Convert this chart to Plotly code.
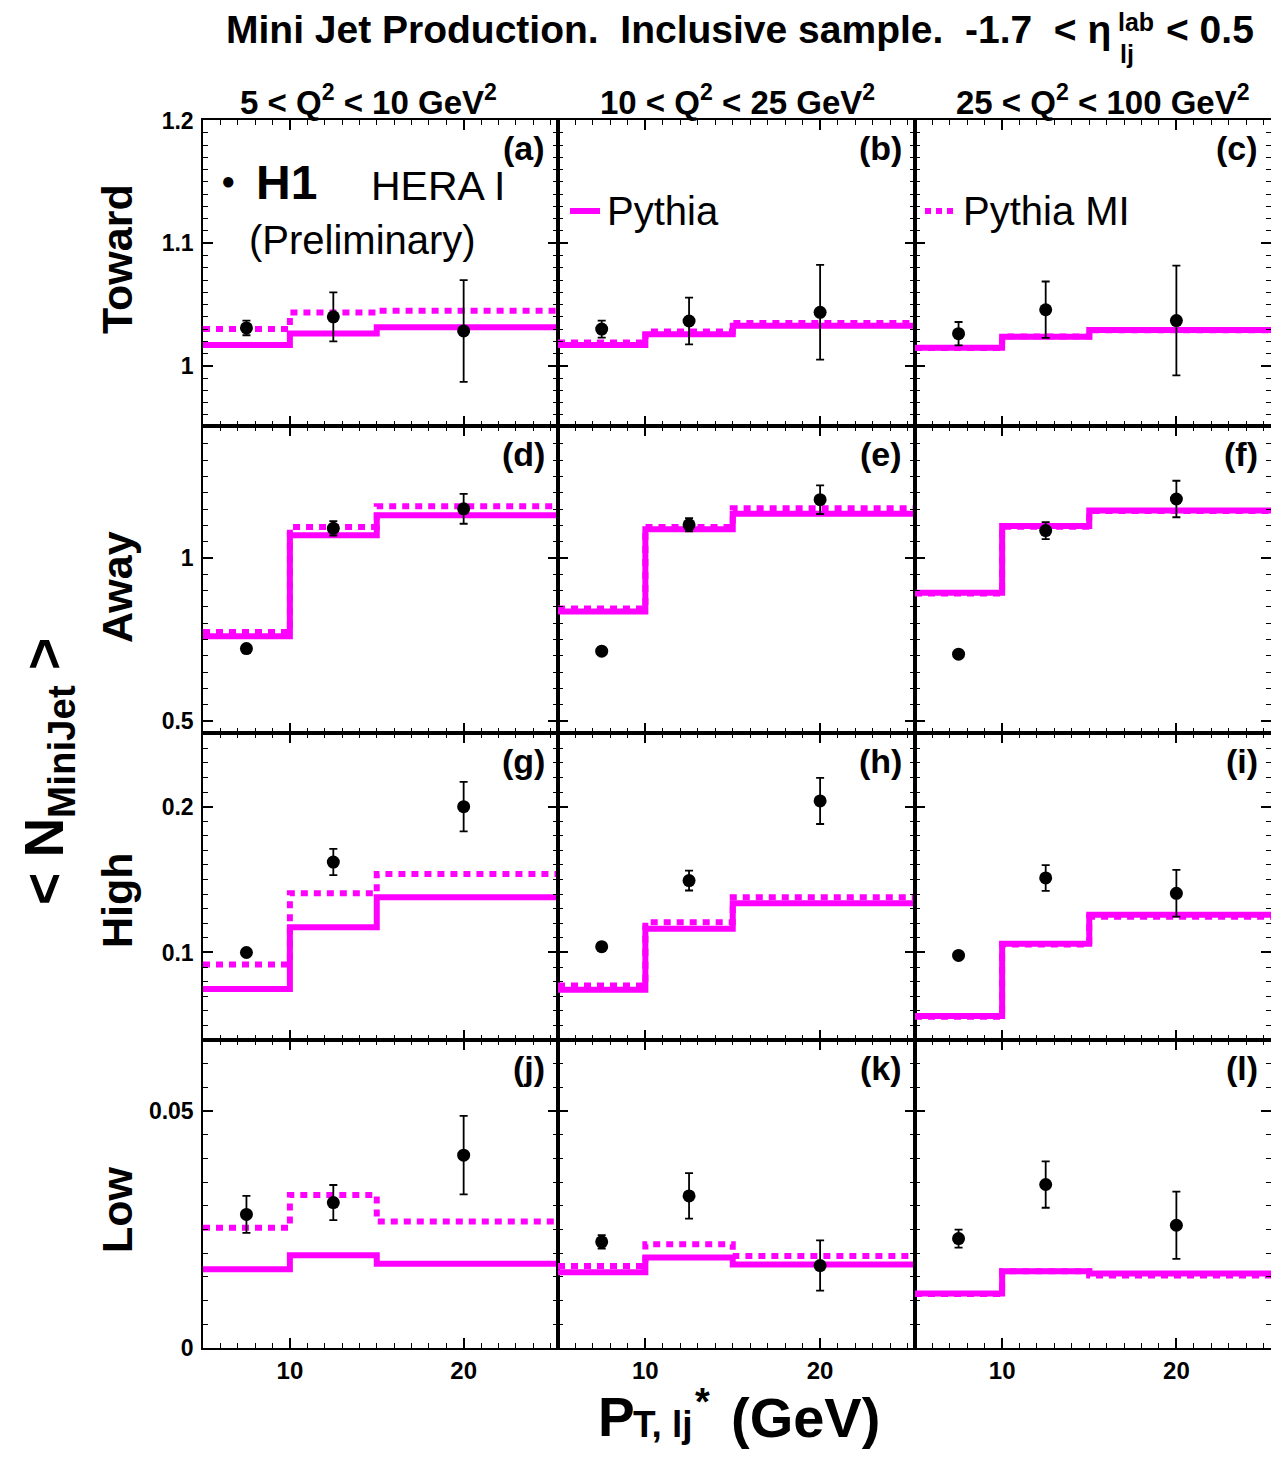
import plotly.graph_objects as go

# ---------------- data ----------------
pt_centers = [7.5, 12.5, 20.0]
bin_edges = [5, 10, 15, 30]
q2_labels = ["5 < Q<sup>2</sup> < 10 GeV<sup>2</sup>",
             "10 < Q<sup>2</sup> < 25 GeV<sup>2</sup>",
             "25 < Q<sup>2</sup> < 100 GeV<sup>2</sup>"]
region_labels = ["Toward", "Away", "High", "Low"]
panel_letters = ["(a)", "(b)", "(c)", "(d)", "(e)", "(f)", "(g)", "(h)", "(i)", "(j)", "(k)", "(l)"]

toward_data = [[1.031, 1.040, 1.0285], [1.030, 1.0366, 1.0437], [1.0263, 1.0458, 1.037]]
toward_err = [[0.006, 0.020, 0.0415], [0.007, 0.019, 0.0386], [0.0095, 0.023, 0.0447]]
toward_pythia = [[1.017, 1.0265, 1.0315], [1.017, 1.0258, 1.0328], [1.0149, 1.0238, 1.0293]]
toward_pythia_mi = [[1.030, 1.0435, 1.045], [1.019, 1.028, 1.035], [1.0145, 1.024, 1.029]]

away_data = [[0.722, 1.091, 1.151], [0.714, 1.102, 1.179], [0.705, 1.084, 1.181]]
away_err = [[0.004, 0.022, 0.046], [0.004, 0.020, 0.044], [0.004, 0.026, 0.056]]
away_pythia = [[0.760, 1.070, 1.131], [0.836, 1.088, 1.136], [0.893, 1.098, 1.146]]
away_pythia_mi = [[0.773, 1.095, 1.159], [0.845, 1.095, 1.153], [0.891, 1.096, 1.144]]

high_data = [[0.100, 0.162, 0.200], [0.104, 0.1493, 0.2039], [0.098, 0.1511, 0.1406]]
high_err = [[0.002, 0.009, 0.017], [0.002, 0.0068, 0.0158], [0.002, 0.0088, 0.016]]
high_pythia = [[0.075, 0.1173, 0.1379], [0.0744, 0.1162, 0.1338], [0.0564, 0.106, 0.1258]]
high_pythia_mi = [[0.0918, 0.1406, 0.1539], [0.0774, 0.1208, 0.1379], [0.0560, 0.1055, 0.1245]]

low_data = [[0.0282, 0.0307, 0.0407], [0.0224, 0.0321, 0.0174], [0.0231, 0.0345, 0.0259]]
low_err = [[0.0039, 0.0037, 0.0083], [0.0014, 0.0048, 0.0053], [0.0019, 0.0049, 0.0071]]
low_pythia = [[0.0166, 0.0196, 0.0178], [0.0160, 0.0191, 0.0176], [0.0115, 0.0162, 0.0157]]
low_pythia_mi = [[0.0254, 0.0323, 0.0267], [0.0173, 0.0219, 0.0194], [0.0114, 0.0162, 0.0153]]

rows_data = [toward_data, away_data, high_data, low_data]
rows_err = [toward_err, away_err, high_err, low_err]
rows_py = [toward_pythia, away_pythia, high_pythia, low_pythia]
rows_pymi = [toward_pythia_mi, away_pythia_mi, high_pythia_mi, low_pythia_mi]

# ---------------- layout geometry ----------------
# page body has an 8px margin; figure is sized so the page fits the window exactly
OFF = 8
W, H = 1279 - 2 * OFF, 1458 - 2 * OFF
col_px = [(203, 558), (558, 915), (915, 1271)]
row_px = [(120, 426), (426, 733), (733, 1040), (1040, 1348)]
y_ranges = [[0.951, 1.2005], [0.463, 1.405], [0.04, 0.2505], [0.0, 0.065]]
y_major = [(1.0, 0.1), (0.5, 0.5), (0.1, 0.1), (0.0, 0.05)]
y_minor = [0.01, 0.05, 0.01, 0.005]
x_range = [5, 25.43]

MAG = "#ff00ff"
FONT = "Liberation Sans"


def px(x):
    return (x - OFF) / W


def py(y):
    return 1 - (y - OFF) / H


fig = go.Figure()
layout = dict(width=W, height=H, margin=dict(l=0, r=0, t=0, b=0, autoexpand=False),
              paper_bgcolor="white", plot_bgcolor="white", showlegend=False)

for r in range(4):
    for c in range(3):
        k = r * 3 + c + 1
        xs = "x" if k == 1 else f"x{k}"
        ys = "y" if k == 1 else f"y{k}"
        xname = "xaxis" if k == 1 else f"xaxis{k}"
        yname = "yaxis" if k == 1 else f"yaxis{k}"
        layout[xname] = dict(
            domain=[px(col_px[c][0]), min(1.0, px(col_px[c][1]))], range=x_range, anchor=ys,
            automargin=False,
            tickmode="array", tickvals=[10, 20], showticklabels=(r == 3),
            ticks="inside", ticklen=10, tickwidth=1.5, tickcolor="black",
            minor=dict(tickmode="linear", tick0=5, dtick=1, ticks="inside", ticklen=5,
                       tickwidth=1.2, tickcolor="black", showgrid=False),
            showline=True, linecolor="black", linewidth=1.5, mirror="allticks",
            showgrid=False, zeroline=False, ticklabelstandoff=0,
            tickfont=dict(family=FONT, size=24, color="black", weight="bold"))
        layout[yname] = dict(
            domain=[py(row_px[r][1]), py(row_px[r][0])], range=y_ranges[r], anchor=xs,
            automargin=False,
            tickmode="linear", tick0=y_major[r][0], dtick=y_major[r][1],
            showticklabels=(c == 0),
            ticks="inside", ticklen=10, tickwidth=1.5, tickcolor="black",
            minor=dict(tickmode="linear", tick0=y_major[r][0], dtick=y_minor[r], ticks="inside",
                       ticklen=5, tickwidth=1.2, tickcolor="black", showgrid=False),
            showline=True, linecolor="black", linewidth=1.5, mirror="allticks",
            showgrid=False, zeroline=False, ticklabelstandoff=3,
            tickfont=dict(family=FONT, size=23, color="black", weight="bold"))

        py_vals = rows_py[r][c]
        mi_vals = rows_pymi[r][c]
        fig.add_trace(go.Scatter(x=bin_edges, y=py_vals + [py_vals[-1]], mode="lines",
                                 line=dict(color=MAG, width=6, shape="hv"),
                                 xaxis=xs, yaxis=ys, name="Pythia"))
        fig.add_trace(go.Scatter(x=bin_edges, y=mi_vals + [mi_vals[-1]], mode="lines",
                                 line=dict(color=MAG, width=6, shape="hv", dash="7px,6px"),
                                 xaxis=xs, yaxis=ys, name="Pythia MI"))
        fig.add_trace(go.Scatter(x=pt_centers, y=rows_data[r][c], mode="markers",
                                 marker=dict(color="black", size=13),
                                 error_y=dict(type="data", array=rows_err[r][c], color="black",
                                              thickness=1.8, width=4),
                                 xaxis=xs, yaxis=ys, name="H1"))

annotations = []


def ann(text, x, y, size, bold=True, xanchor="center", yanchor="middle", angle=0):
    annotations.append(dict(text=text, x=px(x), y=py(y), xref="paper", yref="paper",
                            showarrow=False, xanchor=xanchor, yanchor=yanchor, textangle=angle,
                            font=dict(family=FONT, size=size, color="black",
                                      weight="bold" if bold else "normal")))


# title
ann("Mini Jet Production.\u00a0 Inclusive sample.\u00a0 -1.7\u00a0 < \u03b7", 1113, 30, 39, xanchor="right")
ann("lab", 1116, 22, 25, xanchor="left")
ann("lj", 1118, 54, 25, xanchor="left")
ann("< 0.5", 1256, 30, 39, xanchor="right")

# column headers
q2_centers = [368, 737, 1103]
for c in range(3):
    ann(q2_labels[c], q2_centers[c], 100, 33)

# row labels
row_label_centers = [259, 587, 900, 1210]
for r in range(4):
    ann(region_labels[r], 117, row_label_centers[r], 43, angle=-90)

# panel letters
for r in range(4):
    for c in range(3):
        ann(panel_letters[r * 3 + c], col_px[c][1] - 11, row_px[r][0] + 28, 34, xanchor="right")

# axis titles
ann("< N<sub>MiniJet</sub> >", 48, 772, 55, angle=-90)
ann("P", 596, 1417, 55, xanchor="left")
ann("T, lj", 631, 1424, 37, xanchor="left")
ann("*", 693, 1402, 38, xanchor="left")
ann("(GeV)", 729, 1417, 56, xanchor="left")

# legend
ann("\u25cf", 228, 181, 24)
ann("H1", 254, 183, 48, xanchor="left")
ann("HERA I", 369, 186, 41, bold=False, xanchor="left")
ann("(Preliminary)", 247, 240, 40, bold=False, xanchor="left")
ann("Pythia", 605, 211, 40, bold=False, xanchor="left")
ann("Pythia MI", 961, 211, 40, bold=False, xanchor="left")

shapes = [
    dict(type="line", xref="paper", yref="paper", x0=px(570), x1=px(600), y0=py(211), y1=py(211),
         line=dict(color=MAG, width=6)),
    dict(type="line", xref="paper", yref="paper", x0=px(925), x1=px(958), y0=py(211), y1=py(211),
         line=dict(color=MAG, width=6, dash="6px,5px")),
]

layout["annotations"] = annotations
layout["shapes"] = shapes
fig.update_layout(**layout)
fig.write_html("out.html")
